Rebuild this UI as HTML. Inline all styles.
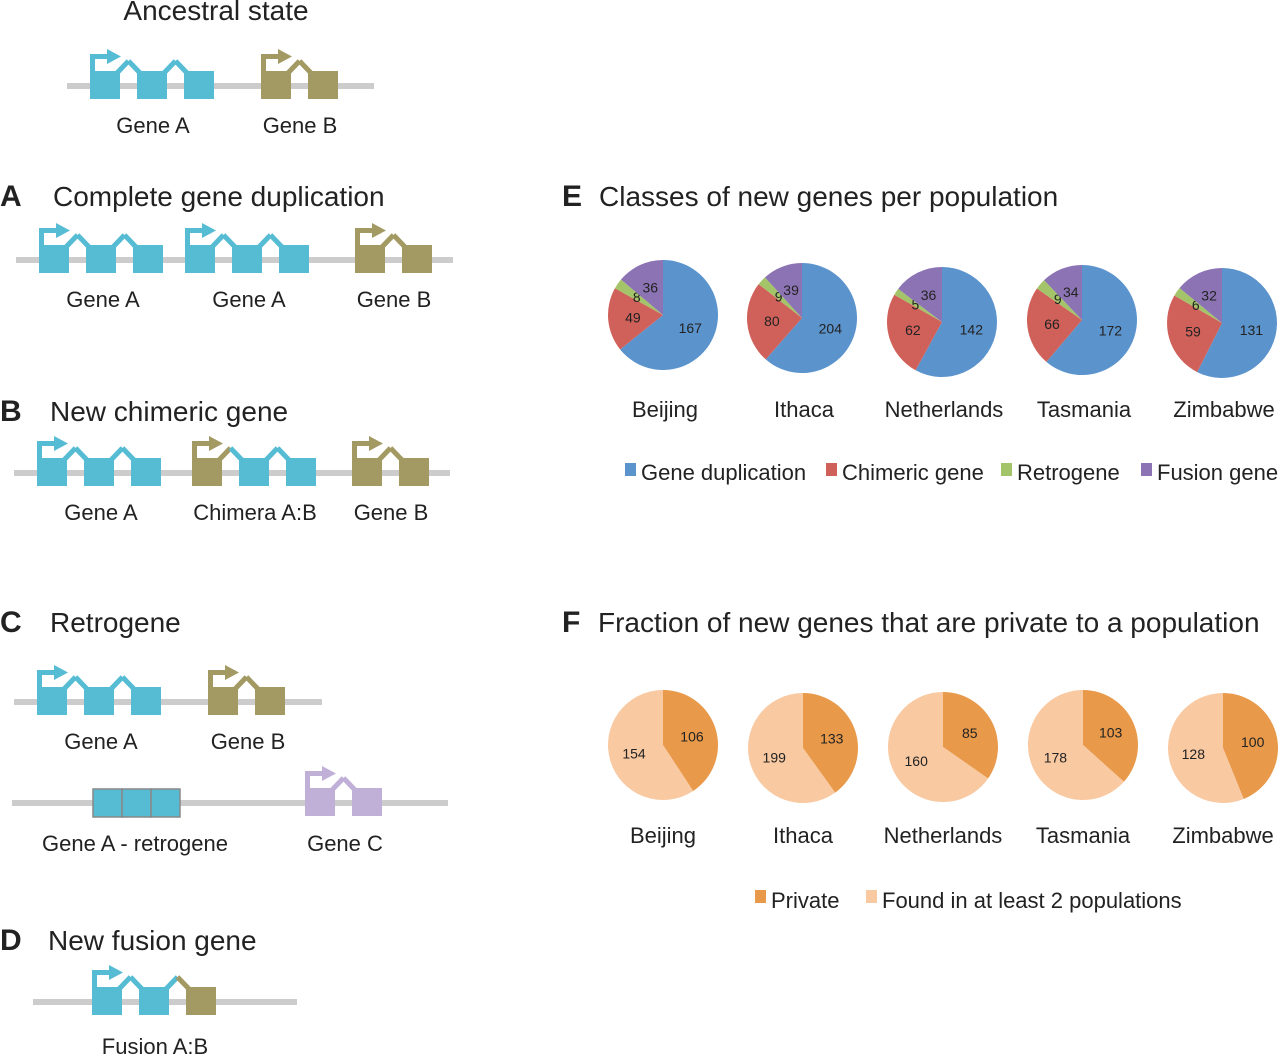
<!DOCTYPE html>
<html><head><meta charset="utf-8"><style>
body{margin:0;background:#fff;width:1280px;height:1056px;overflow:hidden}
svg{display:block;font-family:"Liberation Sans",Arial,sans-serif}
</style></head><body>
<svg id="s" width="1280" height="1056" viewBox="0 0 1280 1056" xmlns="http://www.w3.org/2000/svg">
<g id="diagrams"></g>
<g id="piesE"></g>
<g id="piesF"></g>
<g fill="#222">
<text x="216" y="20" font-size="28" text-anchor="middle">Ancestral state</text>
<text x="0" y="206" font-size="30" font-weight="bold">A</text>
<text x="53" y="206" font-size="28">Complete gene duplication</text>
<text x="0" y="421" font-size="30" font-weight="bold">B</text>
<text x="50" y="421" font-size="28">New chimeric gene</text>
<text x="0" y="632" font-size="30" font-weight="bold">C</text>
<text x="50" y="632" font-size="28">Retrogene</text>
<text x="0" y="950" font-size="30" font-weight="bold">D</text>
<text x="48" y="950" font-size="28">New fusion gene</text>
<text x="562" y="206" font-size="30" font-weight="bold">E</text>
<text x="599" y="206" font-size="28">Classes of new genes per population</text>
<text x="562" y="632" font-size="30" font-weight="bold">F</text>
<text x="598" y="632" font-size="28">Fraction of new genes that are private to a population</text>
<g font-size="22" text-anchor="middle">
<text x="153" y="133">Gene A</text>
<text x="300" y="133">Gene B</text>
<text x="103" y="307">Gene A</text>
<text x="249" y="307">Gene A</text>
<text x="394" y="307">Gene B</text>
<text x="101" y="520">Gene A</text>
<text x="255" y="520">Chimera A:B</text>
<text x="391" y="520">Gene B</text>
<text x="101" y="749">Gene A</text>
<text x="248" y="749">Gene B</text>
<text x="135" y="851">Gene A - retrogene</text>
<text x="345" y="851">Gene C</text>
<text x="155" y="1054">Fusion A:B</text>
</g>
</g>
<g id="legE" font-size="22" fill="#222">
<rect x="625" y="463" width="11" height="13" fill="#5b93cc"/><text x="641" y="480">Gene duplication</text>
<rect x="826" y="463" width="11" height="13" fill="#d0605a"/><text x="842" y="480">Chimeric gene</text>
<rect x="1001" y="463" width="11" height="13" fill="#a3c468"/><text x="1017" y="480">Retrogene</text>
<rect x="1141" y="463" width="11" height="13" fill="#8c73b4"/><text x="1157" y="480">Fusion gene</text>
</g>
<g font-size="22" fill="#222">
<rect x="755" y="890" width="11" height="13" fill="#e8994a"/><text x="771" y="908">Private</text>
<rect x="866" y="890" width="11" height="13" fill="#f9c9a2"/><text x="882" y="908">Found in at least 2 populations</text>
</g>
</svg>
<script>
const NS="http://www.w3.org/2000/svg";
function mk(tag,attrs,parent){const e=document.createElementNS(NS,tag);for(const k in attrs)e.setAttribute(k,attrs[k]);parent.appendChild(e);return e;}
const D=document.getElementById('diagrams');
const CY="#56bcd4",OL="#a39a63",LV="#c0b0d8",GR="#cccccc";
function line(x1,x2,y){const l=mk('line',{x1:x1,x2:x2,y1:y,y2:y,stroke:GR,'stroke-width':6},D);}
function gene(x,y,colors){
  const g=mk('g',{},D);
  
  
  const W=30,S=47,top=y-15,bot=y+13;
  colors.forEach((c,i)=>{
    const ex=x+i*S;
    mk('rect',{x:ex,y:top,width:W,height:bot-top,fill:c},g);
    if(i<colors.length-1){
      const nc=colors[i+1];
      const mid=ex+W+(S-W)/2;
      mk('polyline',{points:`${ex+W-3},${top+2} ${mid},${top-10}`,stroke:c,'stroke-width':5,fill:'none'},g);
      mk('polyline',{points:`${mid},${top-10} ${ex+S+3},${top+2}`,stroke:nc,'stroke-width':5,fill:'none'},g);
    }
  });
  const c0=colors[0];
  mk('rect',{x:x,y:top-17,width:5,height:18,fill:c0},g);
  mk('rect',{x:x,y:top-17,width:18,height:5,fill:c0},g);
  mk('polygon',{points:`${x+17},${top-22} ${x+31},${top-14.5} ${x+17},${top-7}`,fill:c0},g);
}
line(67,374,86);gene(90,86,[CY,CY,CY]);gene(261,86,[OL,OL]);
line(16,453,260);gene(39,260,[CY,CY,CY]);gene(185,260,[CY,CY,CY]);gene(355,260,[OL,OL]);
line(14,450,473);gene(37,473,[CY,CY,CY]);gene(192,473,[OL,CY,CY]);gene(352,473,[OL,OL]);
line(14,322,702);gene(37,702,[CY,CY,CY]);gene(208,702,[OL,OL]);
line(12,448,803);
for(let i=0;i<3;i++){const r=mk('rect',{x:93+i*29,y:789,width:29,height:28,fill:CY,stroke:'#888','stroke-width':1.5},D);}
gene(305,803,[LV,LV]);
line(33,297,1002);gene(92,1002,[CY,CY,OL]);

// Pie data
const populations=["Beijing","Ithaca","Netherlands","Tasmania","Zimbabwe"];
const geneDuplication=[167,204,142,172,131];
const chimericGene=[49,80,62,66,59];
const retrogene=[8,9,5,9,6];
const fusionGene=[36,39,36,34,32];
const privateGenes=[106,133,85,103,100];
const sharedGenes=[154,199,160,178,128];

const eCenters=[[663,315],[802,318],[942,322],[1082,320],[1222,323]];
const fCenters=[[663,745],[803,748],[943,747],[1083,745],[1223,748]];
function pie(parent,cx,cy,r,vals,cols,names){
  const tot=vals.reduce((a,b)=>a+b,0);let a=0;
  vals.forEach((v,i)=>{
    const a0=a,a1=a+v/tot*2*Math.PI;a=a1;
    const p=t=>[cx+r*Math.sin(t),cy-r*Math.cos(t)];
    const [x0,y0]=p(a0),[x1,y1]=p(a1);
    const large=(a1-a0)>Math.PI?1:0;
    const path=mk('path',{d:`M${cx},${cy} L${x0},${y0} A${r},${r} 0 ${large} 1 ${x1},${y1} Z`,fill:cols[i]},parent);
    
    
    const am=(a0+a1)/2,frac=v/tot,lr=frac<0.08?r*0.58:r*0.55;
    const t=mk('text',{x:cx+lr*Math.sin(am),y:cy-lr*Math.cos(am)+5,'font-size':14,'text-anchor':'middle',fill:'#222'},parent);
    t.textContent=v;
    
    
  });
}
const PE=document.getElementById('piesE'),PF=document.getElementById('piesF');
populations.forEach((p,i)=>{
  const [cx,cy]=eCenters[i];
  pie(PE,cx,cy,55,[geneDuplication[i],chimericGene[i],retrogene[i],fusionGene[i]],["#5b93cc","#d0605a","#a3c468","#8c73b4"],["duplication","chimeric","retrogene","fusion"]);
  const t=mk('text',{x:cx+2,y:417,'font-size':22,'text-anchor':'middle',fill:'#222'},PE);t.textContent=p;
  
  
  const [fx,fy]=fCenters[i];
  pie(PF,fx,fy,55,[privateGenes[i],sharedGenes[i]],["#e8994a","#f9c9a2"],["private","shared"]);
  const t2=mk('text',{x:fx,y:843,'font-size':22,'text-anchor':'middle',fill:'#222'},PF);t2.textContent=p;
  
  
});
</script>
</body></html>
